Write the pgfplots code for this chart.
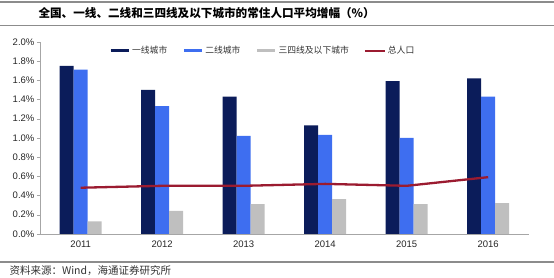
\documentclass[border=0pt]{standalone}
\usepackage{fontspec}
\setmainfont{Liberation Sans}
\newfontfamily\cjk{Noto Sans CJK SC}
\usepackage{pgfplots}
\pgfplotsset{compat=1.18}
\definecolor{navy}{HTML}{0B1C5A}
\definecolor{brightblue}{HTML}{3E6EF0}
\definecolor{lgray}{HTML}{BFBFBF}
\definecolor{dred}{HTML}{9B1B30}
\definecolor{rulegray}{HTML}{8C8C8C}
\definecolor{axgray}{HTML}{A6A6A6}

\begin{document}
\begin{tikzpicture}[x=1pt,y=1pt]
\useasboundingbox (0,0) rectangle (554,277);
% title block and source line
\draw[rulegray, line width=1.5pt] (0,275) -- (554,275);
\draw[rulegray, line width=0.8pt] (0,252) -- (554,252);
\node[anchor=west, font=\cjk\bfseries\fontsize{11.6}{13}\selectfont] at (35,263.5)
  {全国、一线、二线和三四线及以下城市的常住人口平均增幅（\%）};
\draw[rulegray, line width=1.5pt] (0,15) -- (554,15);
\node[anchor=west, font=\cjk\fontsize{10.5}{12}\selectfont, text=black!80] at (6,6.5)
  {资料来源：Wind，海通证券研究所};

\begin{axis}[
    at={(49,45)}, anchor=south west,
    width=489pt, height=192pt, scale only axis,
    xmin=-0.5, xmax=5.5, ymin=0, ymax=2,
    axis x line*=bottom, axis y line*=left,
    axis line style={axgray},
    xtick={0,1,2,3,4,5},
    xticklabels={2011,2012,2013,2014,2015,2016},
    minor xtick={0.5,1.5,2.5,3.5,4.5},
    x tick style={draw=none},
    minor x tick style={axgray},
    ytick={0,0.2,0.4,0.6,0.8,1.0,1.2,1.4,1.6,1.8,2.0},
    yticklabel={\pgfmathprintnumber[fixed,fixed zerofill,precision=1]{\tick}\%},
    y tick style={axgray},
    tick align=outside,
    major tick length=3pt, minor tick length=3pt,
    /pgf/number format/assume math mode=true,
    tick label style={font=\fontsize{9.5}{11}\selectfont, text=black!85},
    yticklabel style={xshift=1pt},
    xticklabel style={yshift=-1pt},
    bar width=14pt,
    legend style={at={(0.135,0.953)}, anchor=west, draw=none, fill=none,
        font=\cjk\fontsize{8.8}{10}\selectfont, text=black!80,
        /tikz/every even column/.append style={column sep=13pt}},
    legend columns=4,
    legend cell align=left,
]
\addplot[ybar, bar shift=-14pt, fill=navy, draw=none,
    legend image code/.code={\draw[navy, line width=3pt] (0pt,0pt) -- (18pt,0pt);}]
  coordinates {(0,1.75) (1,1.50) (2,1.43) (3,1.13) (4,1.59) (5,1.62)};
\addlegendentry{一线城市}
\addplot[ybar, bar shift=0pt, fill=brightblue, draw=none,
    legend image code/.code={\draw[brightblue, line width=3pt] (0pt,0pt) -- (18pt,0pt);}]
  coordinates {(0,1.71) (1,1.33) (2,1.02) (3,1.03) (4,1.00) (5,1.43)};
\addlegendentry{二线城市}
\addplot[ybar, bar shift=14pt, fill=lgray, draw=none,
    legend image code/.code={\draw[lgray, line width=3pt] (0pt,0pt) -- (18pt,0pt);}]
  coordinates {(0,0.13) (1,0.24) (2,0.31) (3,0.36) (4,0.31) (5,0.32)};
\addlegendentry{三四线及以下城市}
\addplot[dred, line width=2.3pt, mark=none, sharp plot,
    legend image code/.code={\draw[dred, line width=2pt] (0pt,0pt) -- (20pt,0pt);}]
  coordinates {(0,0.48) (1,0.50) (2,0.50) (3,0.52) (4,0.50) (5,0.59)};
\addlegendentry{总人口}
\end{axis}
\end{tikzpicture}
\end{document}
